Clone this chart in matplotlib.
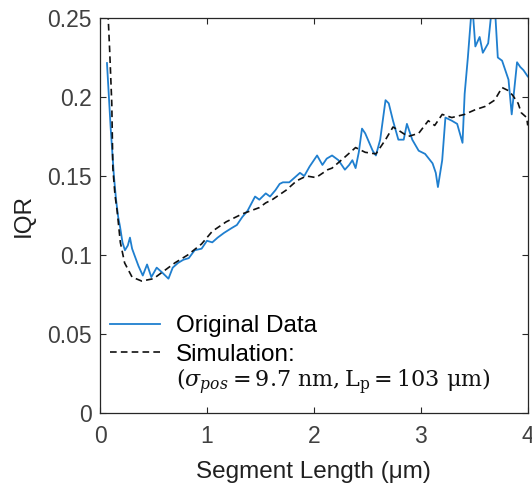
import numpy as np
import matplotlib
matplotlib.use('Agg')
import matplotlib.pyplot as plt

plt.rcParams['font.family'] = ['Liberation Sans', 'DejaVu Sans']
plt.rcParams['mathtext.fontset'] = 'dejavuserif'

# original data
orig_x = [0.065, 0.10, 0.13, 0.15, 0.17, 0.187, 0.21, 0.233, 0.26, 0.28, 0.30, 0.327, 0.36, 0.40,
          0.44, 0.48, 0.53, 0.58, 0.64, 0.68, 0.73, 0.78, 0.83, 0.885, 0.95, 1.0, 1.05, 1.10, 1.16,
          1.23, 1.28, 1.33, 1.38, 1.45, 1.49, 1.55, 1.59, 1.64, 1.68, 1.71, 1.77, 1.82, 1.87, 1.91,
          1.96, 2.03, 2.08, 2.12, 2.17, 2.23, 2.29, 2.33, 2.36, 2.39, 2.42, 2.45, 2.48, 2.55, 2.58,
          2.62, 2.67, 2.70, 2.74, 2.79, 2.84, 2.87, 2.92, 2.98, 3.04, 3.11, 3.14, 3.16, 3.20, 3.23,
          3.29, 3.34, 3.39, 3.41, 3.44, 3.48, 3.51, 3.55, 3.58, 3.63, 3.67, 3.69, 3.72, 3.76, 3.82,
          3.85, 3.90, 3.93, 3.96, 4.0]
orig_y = [0.2215, 0.18, 0.15, 0.135, 0.124, 0.118, 0.108, 0.103, 0.106, 0.111, 0.104, 0.099, 0.093,
          0.087, 0.094, 0.086, 0.092, 0.089, 0.085, 0.092, 0.095, 0.097, 0.098, 0.103, 0.104, 0.109,
          0.108, 0.111, 0.114, 0.117, 0.119, 0.124, 0.128, 0.137, 0.135, 0.139, 0.137, 0.141, 0.145,
          0.146, 0.146, 0.149, 0.152, 0.150, 0.156, 0.163, 0.157, 0.161, 0.163, 0.160, 0.154, 0.157,
          0.160, 0.155, 0.165, 0.180, 0.177, 0.166, 0.163, 0.173, 0.198, 0.196, 0.185, 0.173, 0.173,
          0.183, 0.173, 0.166, 0.164, 0.158, 0.152, 0.143, 0.160, 0.187, 0.185, 0.183, 0.171, 0.202,
          0.225, 0.26, 0.232, 0.238, 0.228, 0.234, 0.26, 0.26, 0.225, 0.223, 0.211, 0.189, 0.222,
          0.219, 0.217, 0.213]

# simulation
sim_x = [0.07, 0.09, 0.11, 0.12, 0.14, 0.16, 0.19, 0.23, 0.30, 0.39, 0.50, 0.58, 0.70, 0.82, 0.95,
         1.05, 1.18, 1.33, 1.49, 1.55, 1.61, 1.74, 1.84, 1.93, 2.02, 2.13, 2.17, 2.29, 2.39, 2.48,
         2.58, 2.67, 2.74, 2.79, 2.88, 2.98, 3.07, 3.13, 3.20, 3.29, 3.41, 3.51, 3.60, 3.69, 3.76,
         3.82, 3.86, 3.91, 3.94, 3.99, 4.0]
sim_y = [0.26, 0.23, 0.196, 0.155, 0.138, 0.128, 0.108, 0.095, 0.086, 0.0835, 0.085, 0.089, 0.095,
         0.100, 0.107, 0.115, 0.121, 0.126, 0.130, 0.133, 0.135, 0.141, 0.147, 0.150, 0.149, 0.154,
         0.155, 0.162, 0.168, 0.165, 0.164, 0.173, 0.181, 0.179, 0.175, 0.177, 0.185, 0.182, 0.189,
         0.187, 0.189, 0.192, 0.194, 0.198, 0.206, 0.204, 0.201, 0.196, 0.190, 0.187, 0.182]

fig = plt.figure(figsize=(5.32, 4.87), dpi=100)
ax = fig.add_axes([0.188, 0.152, 0.804, 0.811])

ax.plot(orig_x, orig_y, color='#1f7fcf', lw=1.3, label='Original Data')
ax.plot(sim_x, sim_y, color='#111111', lw=1.2, ls=(0, (4, 2.5)), label='Simulation:')

ax.set_xlim(0, 4)
ax.set_ylim(0, 0.25)
ax.set_xticks([0, 1, 2, 3, 4])
ax.set_yticks([0, 0.05, 0.1, 0.15, 0.2, 0.25])
ax.set_yticklabels(['0', '0.05', '0.1', '0.15', '0.2', '0.25'])
ax.tick_params(direction='in', top=True, right=True, length=4, width=0.8,
               labelsize=16.5, colors='#262626', labelcolor='#404040')
ax.tick_params(axis='x', pad=9)
ax.tick_params(axis='y', pad=6)
for s in ax.spines.values():
    s.set_color('#262626')
    s.set_linewidth(0.9)

ax.set_xlabel('Segment Length (μm)', fontsize=17.5, color='#202020', labelpad=9)
ax.set_ylabel('IQR', fontsize=17.5, color='#202020', labelpad=9)

ax.legend(loc='upper left', bbox_to_anchor=(0.0, 0.272), borderaxespad=0, frameon=False,
          fontsize=17.5, handlelength=2.05, handletextpad=0.66, labelspacing=0.27)
ax.text(0.71, 0.0195, r'$(\sigma_{pos} = 9.7\ \mathrm{nm}, \mathrm{L_p} = 103\ \mathrm{\mu m})$',
        fontsize=16, va='center', ha='left', color='#111111')

plt.savefig('out.png', dpi=100)
